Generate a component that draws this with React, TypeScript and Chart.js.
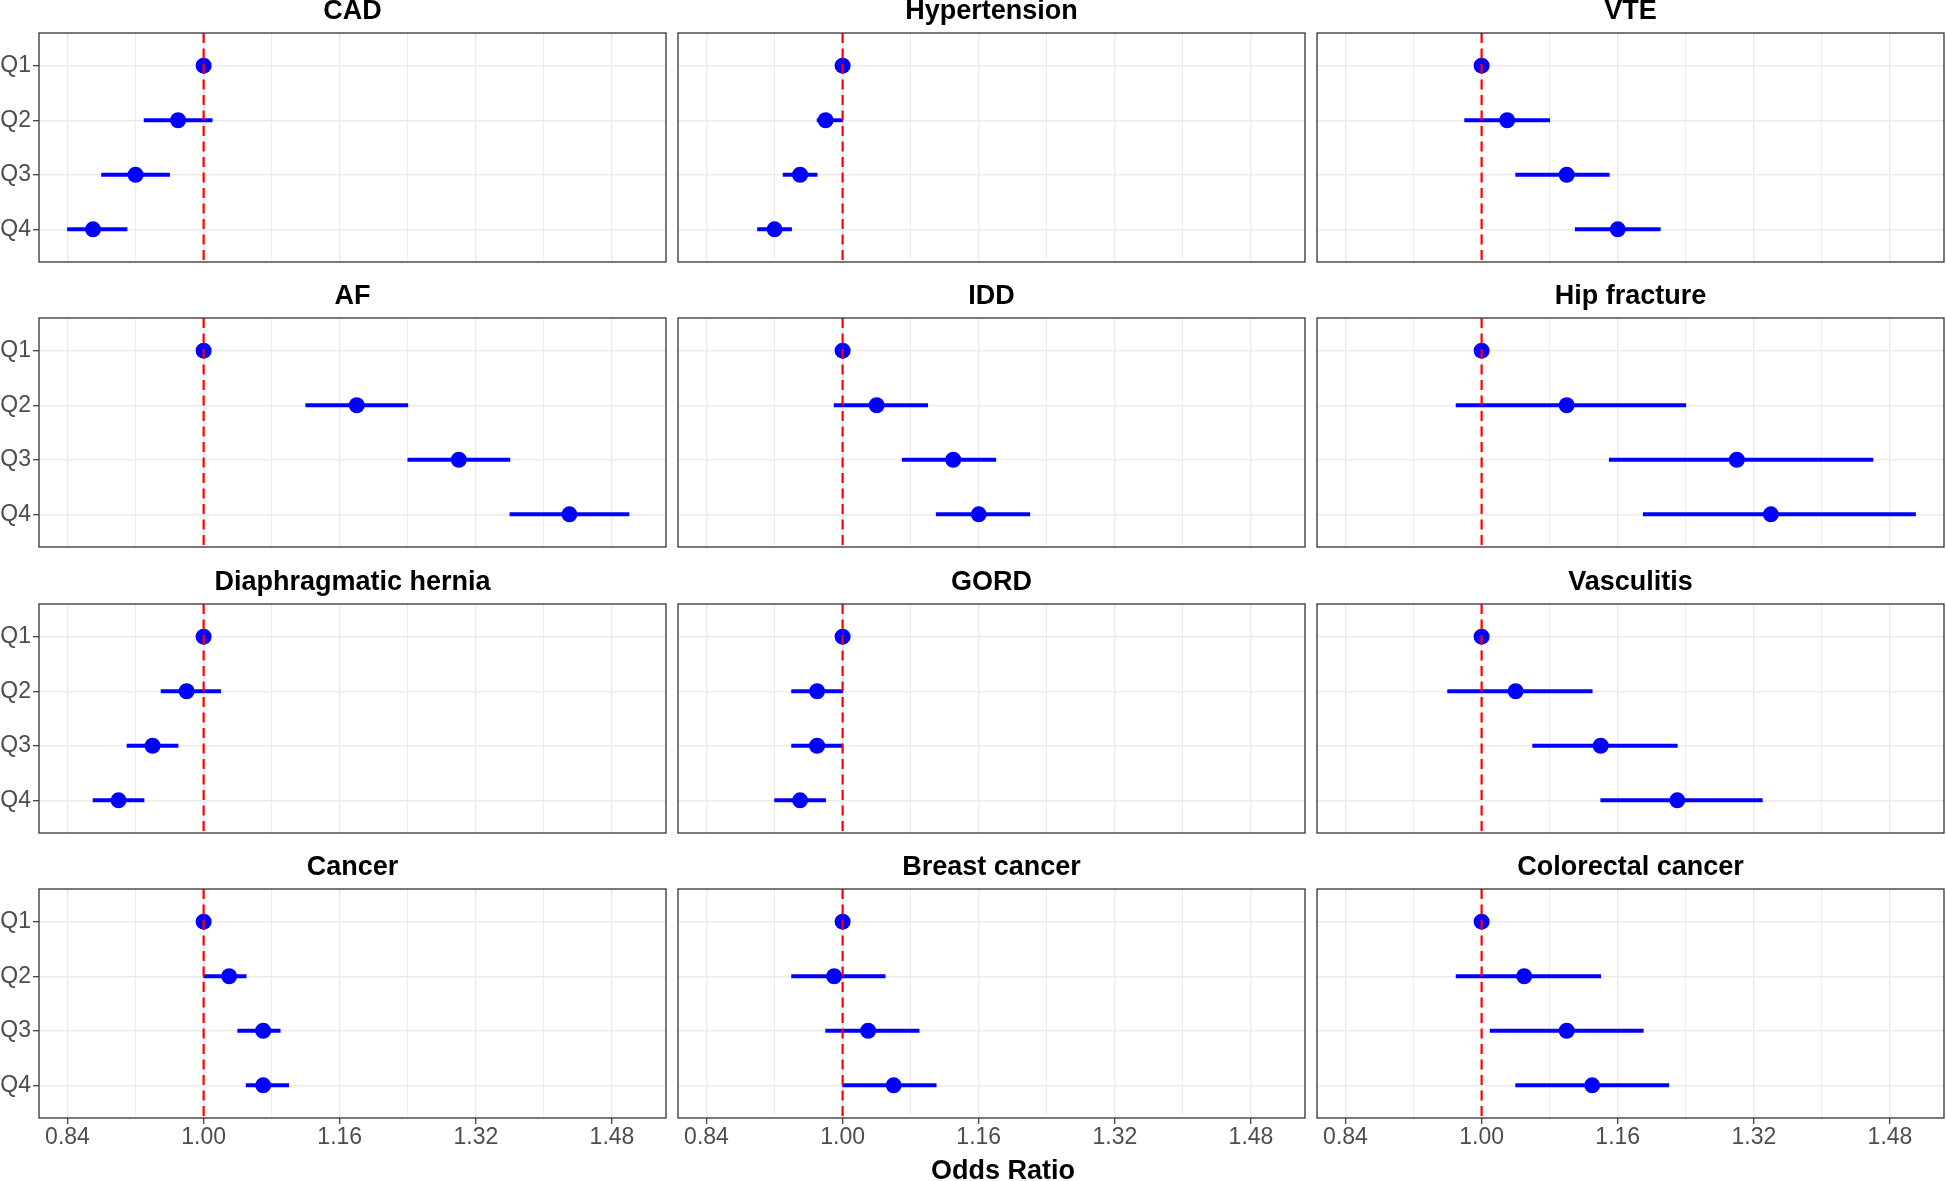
import React, { useEffect, useRef } from 'react';
import { Chart, registerables } from 'chart.js';

Chart.register(...registerables);

// ---------- data ----------
const QUARTILES = ['Q1', 'Q2', 'Q3', 'Q4'];
const TITLES = [
  'CAD', 'Hypertension', 'VTE',
  'AF', 'IDD', 'Hip fracture',
  'Diaphragmatic hernia', 'GORD', 'Vasculitis',
  'Cancer', 'Breast cancer', 'Colorectal cancer',
];

const CAD_OR = [1, 0.97, 0.92, 0.87];
const CAD_LO = [1, 0.93, 0.88, 0.84];
const CAD_HI = [1, 1.01, 0.96, 0.91];

const HTN_OR = [1, 0.98, 0.95, 0.92];
const HTN_LO = [1, 0.97, 0.93, 0.90];
const HTN_HI = [1, 1.00, 0.97, 0.94];

const VTE_OR = [1, 1.03, 1.10, 1.16];
const VTE_LO = [1, 0.98, 1.04, 1.11];
const VTE_HI = [1, 1.08, 1.15, 1.21];

const AF_OR = [1, 1.18, 1.30, 1.43];
const AF_LO = [1, 1.12, 1.24, 1.36];
const AF_HI = [1, 1.24, 1.36, 1.50];

const IDD_OR = [1, 1.04, 1.13, 1.16];
const IDD_LO = [1, 0.99, 1.07, 1.11];
const IDD_HI = [1, 1.10, 1.18, 1.22];

const HIP_OR = [1, 1.10, 1.30, 1.34];
const HIP_LO = [1, 0.97, 1.15, 1.19];
const HIP_HI = [1, 1.24, 1.46, 1.51];

const DH_OR = [1, 0.98, 0.94, 0.90];
const DH_LO = [1, 0.95, 0.91, 0.87];
const DH_HI = [1, 1.02, 0.97, 0.93];

const GORD_OR = [1, 0.97, 0.97, 0.95];
const GORD_LO = [1, 0.94, 0.94, 0.92];
const GORD_HI = [1, 1.00, 1.00, 0.98];

const VASC_OR = [1, 1.04, 1.14, 1.23];
const VASC_LO = [1, 0.96, 1.06, 1.14];
const VASC_HI = [1, 1.13, 1.23, 1.33];

const CANCER_OR = [1, 1.03, 1.07, 1.07];
const CANCER_LO = [1, 1.00, 1.04, 1.05];
const CANCER_HI = [1, 1.05, 1.09, 1.10];

const BREAST_OR = [1, 0.99, 1.03, 1.06];
const BREAST_LO = [1, 0.94, 0.98, 1.00];
const BREAST_HI = [1, 1.05, 1.09, 1.11];

const CRC_OR = [1, 1.05, 1.10, 1.13];
const CRC_LO = [1, 0.97, 1.01, 1.04];
const CRC_HI = [1, 1.14, 1.19, 1.22];

const OR_SERIES = [CAD_OR, HTN_OR, VTE_OR, AF_OR, IDD_OR, HIP_OR, DH_OR, GORD_OR, VASC_OR, CANCER_OR, BREAST_OR, CRC_OR];
const LO_SERIES = [CAD_LO, HTN_LO, VTE_LO, AF_LO, IDD_LO, HIP_LO, DH_LO, GORD_LO, VASC_LO, CANCER_LO, BREAST_LO, CRC_LO];
const HI_SERIES = [CAD_HI, HTN_HI, VTE_HI, AF_HI, IDD_HI, HIP_HI, DH_HI, GORD_HI, VASC_HI, CANCER_HI, BREAST_HI, CRC_HI];

const X_TICKS = [0.84, 0.92, 1.00, 1.08, 1.16, 1.24, 1.32, 1.40, 1.48];
const X_MIN = 0.8065;
const X_MAX = 1.5435;
const Y_MIN = 0.4;
const Y_MAX = 4.6;
const REF_OR = 1;
const X_LABEL = 'Odds Ratio';

// ---------- layout ----------
const FONT = '"Liberation Sans", Arial, Helvetica, sans-serif';
const PAGE_W = 1946;
const PAGE_H = 1181;
const PANEL_LEFT = [39, 678, 1317];
const PANEL_W = 627;
const ROW_TOP = [33, 318, 604, 889];
const PANEL_H = 229;
const TITLE_H = 40;
const Y_AXIS_W = 39;

const borderPlugin = {
  id: 'panelBorder',
  afterDraw(chart: any) {
    const { ctx, chartArea: a } = chart;
    ctx.save();
    ctx.strokeStyle = '#333333';
    ctx.lineWidth = 1.3;
    ctx.strokeRect(a.left, a.top, a.right - a.left, a.bottom - a.top);
    ctx.restore();
  },
};

function Panel({ idx }: { idx: number }) {
  const ref = useRef<HTMLCanvasElement>(null);
  const r = Math.floor(idx / 3);
  const c = idx % 3;
  const isBottom = r === 3;
  const isLeft = c === 0;
  const panelLeft = PANEL_LEFT[c];
  const panelRight = panelLeft + PANEL_W;
  const panelTop = ROW_TOP[r];
  const panelBottom = panelTop + PANEL_H;
  const left = isLeft ? 0 : panelLeft - 2;
  const right = panelRight + 2;
  const top = panelTop - TITLE_H;
  const bottom = isBottom ? PAGE_H : panelBottom + 2;
  const w = right - left;
  const h = bottom - top;

  useEffect(() => {
    const or = OR_SERIES[idx];
    const lo = LO_SERIES[idx];
    const hi = HI_SERIES[idx];
    const chart = new Chart(ref.current as HTMLCanvasElement, {
      type: 'scatter',
      data: {
        datasets: [
          {
            type: 'line',
            data: [{ x: REF_OR, y: Y_MIN }, { x: REF_OR, y: Y_MAX }],
            borderColor: '#FF0000',
            borderWidth: 2.2,
            borderDash: [10, 5.5],
            pointRadius: 0,
            fill: false,
            order: 0,
          } as any,
          {
            type: 'scatter',
            data: or.map((v, i) => ({ x: v, y: i + 1 })),
            backgroundColor: '#0000FF',
            pointRadius: 8,
            pointBorderWidth: 0,
            borderWidth: 0,
            order: 1,
          } as any,
          {
            type: 'bar',
            indexAxis: 'y',
            data: lo.map((v, i) => ({ x: [v, hi[i]], y: i + 1 })),
            backgroundColor: '#0000FF',
            barThickness: 3.2,
            borderWidth: 0,
            order: 2,
          } as any,
        ],
      },
      options: {
        responsive: false,
        animation: false,
        events: [],
        devicePixelRatio: 1,
        datasets: { bar: { indexAxis: 'y' } } as any,
        layout: {
          autoPadding: false,
          padding: { left: isLeft ? 0 : 2, right: 2, top: 0, bottom: isBottom ? 0 : 2 },
        },
        plugins: {
          legend: { display: false },
          tooltip: { enabled: false },
          title: {
            display: true,
            text: TITLES[idx],
            fullSize: false,
            color: '#000000',
            font: { family: FONT, size: 27, weight: 'bold', lineHeight: 1.2 },
            padding: { top: 2.8, bottom: 4.8 },
          },
        },
        scales: {
          x: {
            type: 'linear',
            position: 'bottom',
            min: X_MIN,
            max: X_MAX,
            offset: false,
            beginAtZero: false,
            afterBuildTicks: (s: any) => { s.ticks = X_TICKS.map((v) => ({ value: v })); },
            afterFit: (s: any) => {
              s.height = isBottom ? PAGE_H - panelBottom : 0;
              s.paddingLeft = 0;
              s.paddingRight = 0;
              s.paddingTop = 0;
              s.paddingBottom = 0;
            },
            ticks: {
              display: isBottom,
              autoSkip: false,
              maxRotation: 0,
              minRotation: 0,
              padding: 2,
              color: '#4d4d4d',
              font: { family: FONT, size: 23, lineHeight: 1 },
              callback: (v: any, i: number) => (i % 2 === 0 ? Number(v).toFixed(2) : ''),
            },
            grid: {
              offset: false,
              color: '#ebebeb',
              lineWidth: (ctx: any) => (ctx.index % 2 === 0 ? 1.4 : 0.9),
              drawTicks: isBottom,
              tickLength: 6,
              tickWidth: 1.2,
              tickColor: (ctx: any) => (ctx.index % 2 === 0 ? '#333333' : 'rgba(0,0,0,0)'),
            },
            border: { display: false },
          },
          y: {
            type: 'linear',
            position: 'left',
            min: Y_MIN,
            max: Y_MAX,
            reverse: true,
            offset: false,
            afterBuildTicks: (s: any) => { s.ticks = QUARTILES.map((_, i) => ({ value: i + 1 })); },
            afterFit: (s: any) => {
              s.width = isLeft ? Y_AXIS_W : 0;
              s.paddingLeft = 0;
              s.paddingRight = 0;
              s.paddingTop = 0;
              s.paddingBottom = 0;
            },
            ticks: {
              display: isLeft,
              padding: 2,
              color: '#4d4d4d',
              font: { family: FONT, size: 23, lineHeight: 1 },
              callback: (v: any) => QUARTILES[Math.round(Number(v)) - 1] ?? '',
            },
            grid: {
              offset: false,
              color: '#ebebeb',
              lineWidth: 1.4,
              drawTicks: isLeft,
              tickLength: 6,
              tickWidth: 1.2,
              tickColor: '#333333',
            },
            border: { display: false },
          },
        },
      } as any,
      plugins: [borderPlugin],
    });
    return () => chart.destroy();
  }, []);

  return (
    <canvas
      ref={ref}
      width={w}
      height={h}
      style={{ position: 'absolute', left, top, width: w, height: h, display: 'block' }}
    />
  );
}

export default function App() {
  return (
    <div
      style={{
        position: 'absolute',
        left: 0,
        top: 0,
        width: PAGE_W,
        height: PAGE_H,
        overflow: 'hidden',
        background: '#ffffff',
      }}
    >
      {TITLES.map((_, i) => (
        <Panel key={i} idx={i} />
      ))}
      <div
        style={{
          position: 'absolute',
          left: 1003 - 200,
          width: 400,
          top: 1156.5,
          textAlign: 'center',
          font: `bold 27px ${FONT}`,
          lineHeight: '27px',
          color: '#000000',
          whiteSpace: 'nowrap',
        }}
      >
        {X_LABEL}
      </div>
    </div>
  );
}
